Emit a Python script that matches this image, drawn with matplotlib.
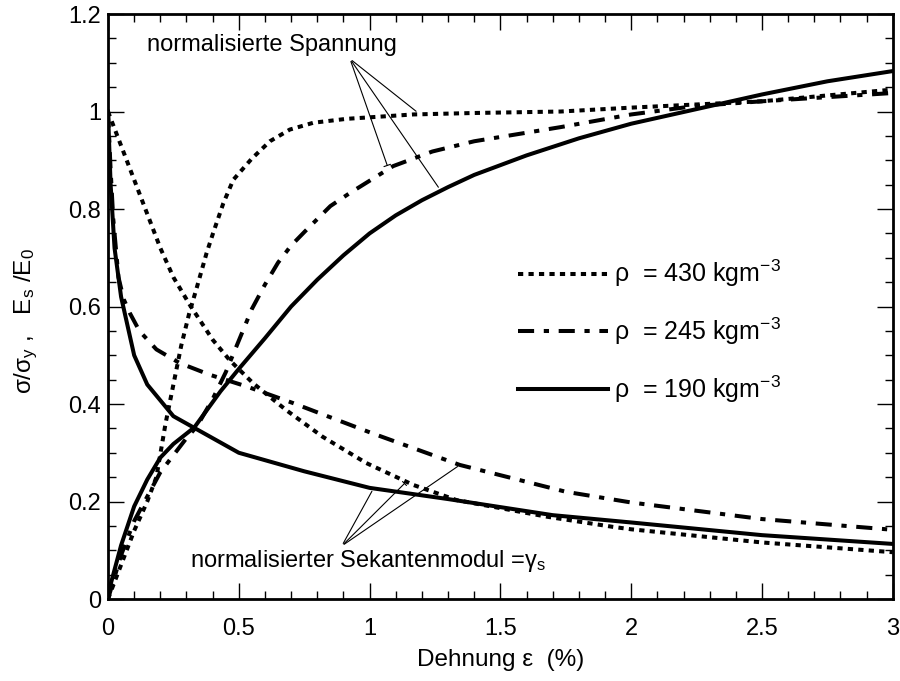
import numpy as np
import matplotlib
matplotlib.use("Agg")
import matplotlib.pyplot as plt
from matplotlib.ticker import MultipleLocator

plt.rcParams['font.family'] = ['Liberation Sans', 'DejaVu Sans']
plt.rcParams['mathtext.fontset'] = 'custom'
plt.rcParams['mathtext.rm'] = 'Liberation Sans'
plt.rcParams['mathtext.it'] = 'Liberation Sans'
plt.rcParams['mathtext.default'] = 'regular'

# normalised stress sigma/sigma_y vs strain (%)
x_s190 = [0, 0.01, 0.05, 0.1, 0.15, 0.2, 0.25, 0.33, 0.43, 0.5, 0.6, 0.7, 0.8, 0.9,
          1.0, 1.1, 1.2, 1.3, 1.4, 1.6, 1.8, 2.0, 2.25, 2.5, 2.75, 3.0]
y_s190 = [0, 0.03, 0.11, 0.19, 0.245, 0.29, 0.318, 0.352, 0.426, 0.472, 0.535, 0.60, 0.655, 0.705,
          0.75, 0.787, 0.818, 0.845, 0.87, 0.91, 0.945, 0.975, 1.005, 1.035, 1.062, 1.083]

x_s245 = [0, 0.05, 0.1, 0.2, 0.3, 0.34, 0.4, 0.45, 0.5, 0.55, 0.6, 0.65, 0.7, 0.76, 0.85,
          0.925, 1.09, 1.24, 1.4, 1.73, 2.0, 2.24, 2.5, 3.0]
y_s245 = [0, 0.09, 0.16, 0.26, 0.33, 0.354, 0.41, 0.465, 0.53, 0.595, 0.645, 0.69, 0.725, 0.758, 0.806,
          0.833, 0.888, 0.918, 0.939, 0.968, 0.994, 1.011, 1.021, 1.038]

x_s430 = [0, 0.05, 0.1, 0.15, 0.185, 0.22, 0.25, 0.28, 0.31, 0.34, 0.377, 0.402, 0.441, 0.479,
          0.549, 0.619, 0.695, 0.785, 0.912, 1.167, 1.4, 1.73, 2.0, 2.5, 3.0]
y_s430 = [0, 0.07, 0.14, 0.2, 0.25, 0.36, 0.44, 0.52, 0.585, 0.64, 0.71, 0.751, 0.812, 0.86,
          0.903, 0.939, 0.963, 0.977, 0.985, 0.994, 0.997, 1.0, 1.008, 1.021, 1.045]

# normalised secant modulus E_s/E_0
x_e190 = [0, 0.01, 0.025, 0.05, 0.1, 0.15, 0.25, 0.5, 0.75, 1.0, 1.3, 1.7, 2.0, 2.5, 3.0]
y_e190 = [1.0, 0.85, 0.72, 0.62, 0.5, 0.44, 0.375, 0.30, 0.262, 0.228, 0.205, 0.172, 0.157, 0.131, 0.113]

x_e245 = [0, 0.01, 0.02, 0.04, 0.06, 0.083, 0.12, 0.185, 0.274, 0.389, 0.53, 0.707, 1.01,
          1.345, 1.75, 2.0, 2.5, 3.0]
y_e245 = [1.0, 0.88, 0.78, 0.66, 0.615, 0.587, 0.55, 0.512, 0.484, 0.46, 0.436, 0.402, 0.34,
          0.275, 0.22, 0.198, 0.164, 0.142]

x_e430 = [0, 0.05, 0.1, 0.15, 0.2, 0.25, 0.312, 0.4, 0.465, 0.554, 0.68, 0.82, 0.987, 1.167,
          1.332, 1.676, 1.93, 2.0, 2.5, 3.0]
y_e430 = [1.0, 0.93, 0.86, 0.79, 0.72, 0.66, 0.604, 0.532, 0.49, 0.443, 0.388, 0.333, 0.279, 0.234,
          0.203, 0.169, 0.148, 0.143, 0.116, 0.096]

labels = [r'ρ  = 430 kgm$^{-3}$', r'ρ  = 245 kgm$^{-3}$', r'ρ  = 190 kgm$^{-3}$']

lw = 2.9
dotted = (0, (1.3, 1.3))
dashdot = (0, (4.0, 2.4, 1.3, 2.4))

fig = plt.figure(figsize=(9, 6.81), dpi=100)
ax = fig.add_axes([0.12, 0.1204, 0.872, 0.859])

l1, = ax.plot(x_s430, y_s430, color='black', lw=lw, linestyle=dotted, dash_capstyle='butt')
l2, = ax.plot(x_s245, y_s245, color='black', lw=lw, linestyle=dashdot, dash_capstyle='butt')
l3, = ax.plot(x_s190, y_s190, color='black', lw=lw, linestyle='-')
ax.plot(x_e430, y_e430, color='black', lw=lw, linestyle=dotted, dash_capstyle='butt')
ax.plot(x_e245, y_e245, color='black', lw=lw, linestyle=dashdot, dash_capstyle='butt')
ax.plot(x_e190, y_e190, color='black', lw=lw, linestyle='-')

ax.set_xlim(0, 3)
ax.set_ylim(0, 1.2)
ax.xaxis.set_minor_locator(MultipleLocator(0.1))
ax.yaxis.set_minor_locator(MultipleLocator(0.05))
ax.set_xticks([0, 0.5, 1, 1.5, 2, 2.5, 3])
ax.set_xticklabels(['0', '0.5', '1', '1.5', '2', '2.5', '3'])
ax.set_yticks([0, 0.2, 0.4, 0.6, 0.8, 1.0, 1.2])
ax.set_yticklabels(['0', '0.2', '0.4', '0.6', '0.8', '1', '1.2'])
ax.tick_params(which='both', direction='in', top=True, right=True, width=1.0)
ax.tick_params(which='major', length=11.5, labelsize=17)
ax.tick_params(which='minor', length=5.5)
ax.tick_params(axis='x', which='major', pad=14)
ax.tick_params(axis='y', which='major', pad=5)
for s in ax.spines.values():
    s.set_linewidth(2.0)

ax.set_xlabel('Dehnung ε  (%)', fontsize=17.5, labelpad=6)
ax.set_ylabel(r'σ/σ$_y$ ,   E$_s$ /E$_0$', fontsize=17.5, labelpad=20, y=0.475)

leg = ax.legend([l1, l2, l3], labels, loc='upper left', bbox_to_anchor=(0.51, 0.6),
                frameon=False, fontsize=18, handlelength=3.6, labelspacing=1.05,
                handletextpad=0.25, borderaxespad=0)

# annotations: normalised stress
ax.text(0.149, 1.125, 'normalisierte Spannung', fontsize=17, va='baseline', ha='left')
src = (0.925, 1.108)
ax.annotate('', xy=(1.186, 0.997), xytext=src, arrowprops=dict(arrowstyle='-', lw=0.8))
ax.annotate('', xy=(1.071, 0.884), xytext=src,
            arrowprops=dict(arrowstyle='-[, widthB=0.25, lengthB=0', lw=0.8))
ax.annotate('', xy=(1.269, 0.840), xytext=src, arrowprops=dict(arrowstyle='-', lw=0.8))

# annotations: normalised secant modulus
ax.text(0.313, 0.066, r'normalisierter Sekantenmodul =$\gamma_s$', fontsize=17,
        va='baseline', ha='left')
src2 = (0.894, 0.109)
ax.annotate('', xy=(1.014, 0.226), xytext=src2, arrowprops=dict(arrowstyle='-', lw=0.8))
ax.annotate('', xy=(1.141, 0.241), xytext=src2,
            arrowprops=dict(arrowstyle='-[, widthB=0.2, lengthB=0', lw=0.8))
ax.annotate('', xy=(1.345, 0.275), xytext=src2, arrowprops=dict(arrowstyle='-', lw=0.8))

fig.savefig('out.png', dpi=100)
